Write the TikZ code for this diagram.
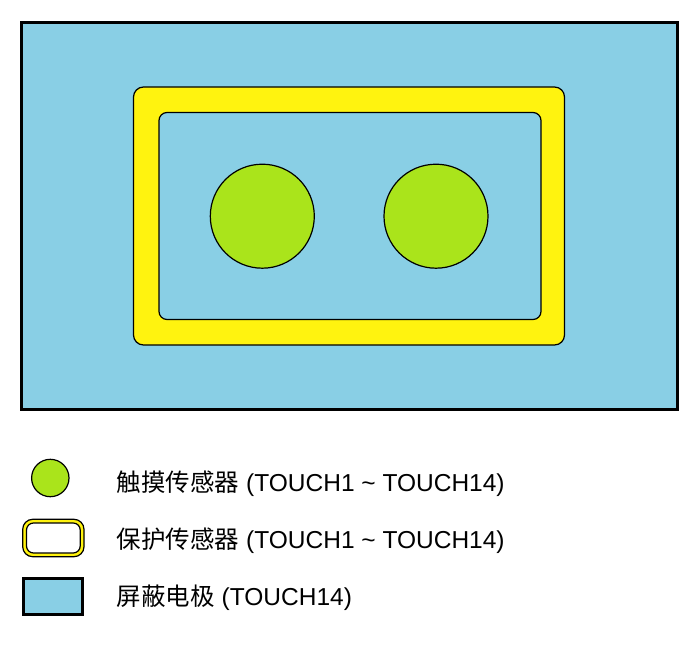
\documentclass[tikz,border=0pt]{standalone}
\usepackage{fontspec}
\setmainfont{Liberation Sans}
\newfontfamily\cjk{Noto Sans CJK SC}
\definecolor{shieldblue}{RGB}{137,207,229}
\definecolor{guardyellow}{RGB}{255,243,15}
\definecolor{touchgreen}{RGB}{170,228,27}
\tikzset{
  shield/.style={fill=shieldblue,draw=black,line width=3pt},
  guard/.style={fill=guardyellow,draw=black,line width=1.2pt},
  guardin/.style={fill=shieldblue,draw=black,line width=1.2pt},
  touch/.style={fill=touchgreen,draw=black,line width=1.2pt},
  legtext/.style={anchor=base west,inner sep=0pt,font=\fontsize{24.5pt}{28pt}\selectfont}
}
\begin{document}
\begin{tikzpicture}[x=1pt,y=-1pt]
\useasboundingbox (0,0) rectangle (700,644);
% shield electrode
\path[shield] (21.5,22.5) rectangle (677.5,409.5);
% guard sensor ring
\path[guard,rounded corners=10pt] (133.5,87) rectangle (564.5,345);
\path[guardin,rounded corners=8pt] (159,112.5) rectangle (541,319.5);
% touch sensors
\node[touch,circle,minimum size=104pt,inner sep=0pt] (t1) at (262.3,216.2) {};
\node[touch,circle,minimum size=104pt,inner sep=0pt] (t2) at (436,216.2) {};
% legend
\node[touch,circle,minimum size=37.4pt,inner sep=0pt] (lc) at (50.3,478) {};
\path[guard,rounded corners=10pt] (22.7,519.3) rectangle (84,556.7);
\path[fill=white,draw=black,line width=1.2pt,rounded corners=7pt] (26.5,523) rectangle (80.2,553);
\path[shield] (23.3,578.3) rectangle (82,614.3);
\node[legtext] (l1) at (116.7,491) {{\cjk 触摸传感器} (TOUCH1 \textasciitilde{} TOUCH14)};
\node[legtext] (l2) at (116.7,548.3) {{\cjk 保护传感器} (TOUCH1 \textasciitilde{} TOUCH14)};
\node[legtext] (l3) at (116.7,605.7) {{\cjk 屏蔽电极} (TOUCH14)};
\end{tikzpicture}
\end{document}
